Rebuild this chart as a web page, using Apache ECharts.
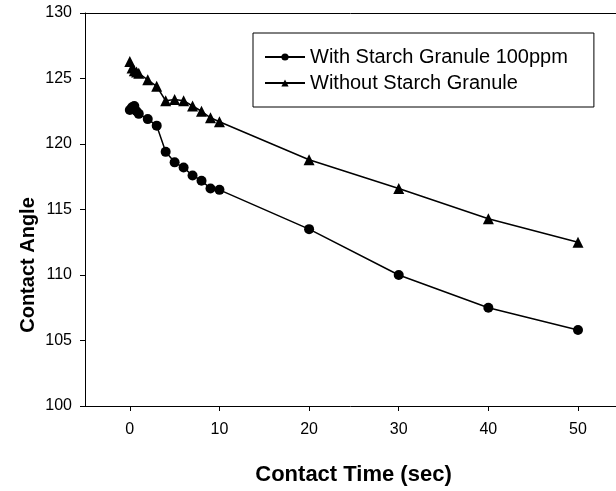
<!DOCTYPE html>
<html>
<head>
<meta charset="utf-8">
<script src="https://cdn.jsdelivr.net/npm/echarts@6/dist/echarts.min.js"></script>
<style>html,body{margin:0;padding:0;background:#fff}#c{width:616px;height:491px}</style>
</head>
<body>
<div id="c"></div>
<script>
var seriesNames = ['With Starch Granule 100ppm', 'Without Starch Granule'];
var timeWith = [0, 0.25, 0.5, 0.75, 1, 2, 3, 4, 5, 6, 7, 8, 9, 10, 20, 30, 40, 50];
var angleWith = [122.6, 122.8, 122.9, 122.5, 122.3, 121.9, 121.4, 119.4, 118.6, 118.2, 117.6, 117.2, 116.6, 116.5, 113.5, 110.0, 107.5, 105.8];
var timeWithout = [0, 0.25, 0.5, 0.75, 1, 2, 3, 4, 5, 6, 7, 8, 9, 10, 20, 30, 40, 50];
var angleWithout = [126.3, 125.8, 125.6, 125.5, 125.4, 124.9, 124.4, 123.3, 123.4, 123.3, 122.9, 122.5, 122.0, 121.7, 118.8, 116.6, 114.3, 112.5];
var xTicks = [0, 10, 20, 30, 40, 50];
var yTicks = [100, 105, 110, 115, 120, 125, 130];

function pairs(xs, ys) { return xs.map(function (x, i) { return [x, ys[i]]; }); }

var chart = echarts.init(document.getElementById('c'), null, {renderer: 'canvas'});
var FONT = 'Liberation Sans';
chart.setOption({
  animation: false,
  backgroundColor: '#fff',
  grid: {left: 85, top: 13, right: 0, bottom: 82, show: false, containLabel: false},
  legend: {
    left: 253, top: 33, orient: 'vertical', align: 'left',
    data: seriesNames,
    backgroundColor: '#fff', borderColor: '#000', borderWidth: 1, borderRadius: 0,
    padding: [14, 26, 14, 11],
    itemGap: 6, itemWidth: 40, itemHeight: 9,
    textStyle: {fontFamily: FONT, fontSize: 20, color: '#000'}
  },
  xAxis: [{
    type: 'value', min: -5, max: 54.24, position: 'bottom',
    name: 'Contact Time (sec)', nameLocation: 'middle', nameGap: 58,
    nameTextStyle: {fontFamily: FONT, fontSize: 22, fontWeight: 'bold', color: '#000', padding: [0, 0, 0, 6]},
    axisLine: {show: true, onZero: false, lineStyle: {color: '#000', width: 1}},
    axisTick: {show: true, inside: false, length: 5, lineStyle: {color: '#000'}, customValues: xTicks},
    axisLabel: {margin: 16, fontFamily: FONT, fontSize: 16, color: '#000', customValues: xTicks},
    splitLine: {show: false}
  }, {
    type: 'value', min: -5, max: 54.24, position: 'top',
    axisLine: {show: true, onZero: false, lineStyle: {color: '#000', width: 1}},
    axisTick: {show: false}, axisLabel: {show: false}, splitLine: {show: false}
  }],
  yAxis: {
    type: 'value', min: 100, max: 130, interval: 5,
    axisLine: {show: true, onZero: false, lineStyle: {color: '#000', width: 1}},
    axisTick: {show: true, inside: false, length: 5, lineStyle: {color: '#000'}},
    axisLabel: {margin: 13, fontFamily: FONT, fontSize: 16, color: '#000', customValues: yTicks},
    splitLine: {show: false}
  },
  graphic: [{
    type: 'text', x: 28, y: 265, rotation: Math.PI / 2,
    style: {text: 'Contact Angle', fontFamily: FONT, fontSize: 20, fontWeight: 'bold', fill: '#000', align: 'center', verticalAlign: 'middle'}
  }],
  series: [{
    name: seriesNames[0], type: 'line', xAxisIndex: 0, data: pairs(timeWith, angleWith),
    symbol: 'circle', symbolSize: 10, showAllSymbol: true,
    lineStyle: {color: '#000', width: 1.5}, itemStyle: {color: '#000', borderWidth: 0}
  }, {
    name: seriesNames[1], type: 'line', xAxisIndex: 0, data: pairs(timeWithout, angleWithout),
    symbol: 'triangle', symbolSize: 11, showAllSymbol: true,
    lineStyle: {color: '#000', width: 1.5}, itemStyle: {color: '#000', borderWidth: 0}
  }]
});
</script>
</body>
</html>
